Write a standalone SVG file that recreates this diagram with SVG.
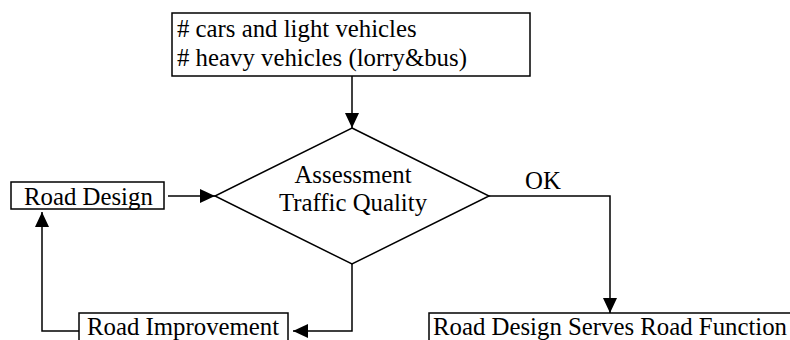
<svg xmlns="http://www.w3.org/2000/svg" width="790" height="340" viewBox="0 0 790 340">
<style>
.box{fill:#fff;stroke:#000;stroke-width:1.5}
.t{font-family:"Liberation Serif","Times New Roman",serif;font-size:24.8px;fill:#000}
.c{fill:none;stroke:#000;stroke-width:1.5}
</style>
<defs>
<marker id="ah" markerWidth="15" markerHeight="14" refX="15" refY="7" orient="auto" markerUnits="userSpaceOnUse">
<path d="M0,0 L15,7 L0,14 Z" fill="#000"/>
</marker>
</defs>
<rect width="790" height="340" fill="#fff"/>
<g id="input">
<rect class="box" x="172" y="13" width="358" height="63"/>
<text class="t" x="177" y="37">#  cars and light vehicles</text>
<text class="t" x="177" y="66">#  heavy vehicles (lorry&amp;bus)</text>
</g>
<g id="assessment">
<polygon class="box" points="352,128 489,196 352,264 215,196"/>
<text class="t" x="353" y="183" text-anchor="middle">Assessment</text>
<text class="t" x="353" y="211" text-anchor="middle">Traffic Quality</text>
</g>
<g id="roaddesign">
<rect class="box" x="11" y="182" width="153" height="27"/>
<text class="t" x="24" y="205">Road Design</text>
</g>
<g id="improvement">
<rect class="box" x="79" y="313" width="209" height="30"/>
<text class="t" x="87" y="335">Road Improvement</text>
</g>
<g id="serves">
<rect class="box" x="429" y="313" width="370" height="30"/>
<text class="t" x="433" y="335">Road Design Serves Road Function</text>
</g>
<g id="connectors">
<path class="c" d="M352,76 L352,128" marker-end="url(#ah)"/>
<path class="c" d="M168,196 L215,196" marker-end="url(#ah)"/>
<path class="c" d="M352,264 L352,331 L293,331" marker-end="url(#ah)"/>
<path class="c" d="M79,331 L42,331 L42,212" marker-end="url(#ah)"/>
<path class="c" d="M489,196 L610,196 L610,313" marker-end="url(#ah)"/>
<text class="t" x="525" y="189">OK</text>
</g>
</svg>
